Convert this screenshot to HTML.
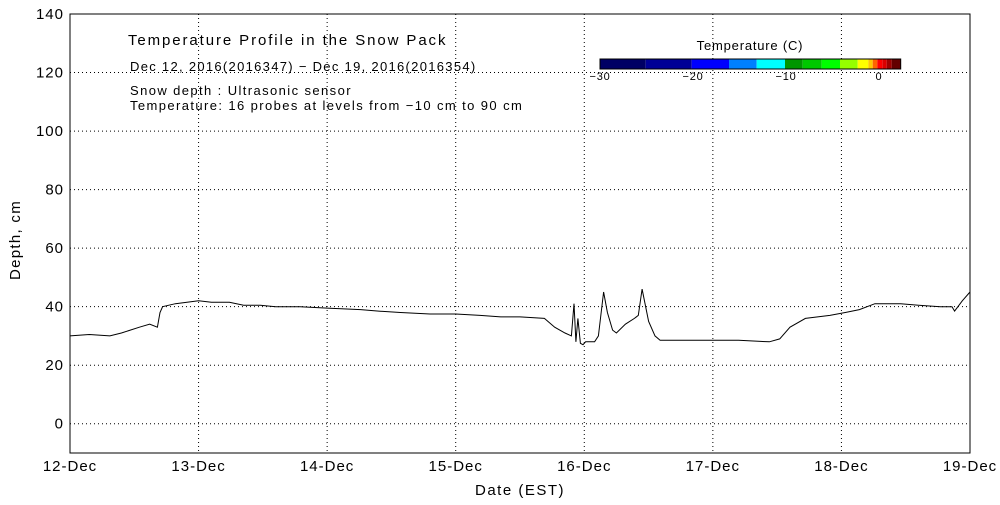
<!DOCTYPE html>
<html><head><meta charset="utf-8"><style>
body{margin:0;background:#fff;}
svg text{font-family:"Liberation Sans",sans-serif;fill:#000;}
</style></head><body>
<svg width="1000" height="500" xmlns="http://www.w3.org/2000/svg">
<g id="grid"></g>
<rect x="70" y="14" width="900" height="439" fill="none" stroke="#000"/>
<g id="axes"></g>
<text x="128" y="45" font-size="15" letter-spacing="1.9">Temperature Profile in the Snow Pack</text>
<text x="130" y="71" font-size="13" letter-spacing="1.3">Dec 12, 2016(2016347) − Dec 19, 2016(2016354)</text>
<text x="130" y="95" font-size="13" letter-spacing="1.4">Snow depth : Ultrasonic sensor</text>
<text x="130" y="110" font-size="13" letter-spacing="1.4">Temperature: 16 probes at levels from −10 cm to 90 cm</text>
<text x="750" y="50" font-size="13" letter-spacing="0.8" text-anchor="middle">Temperature (C)</text>
<g id="cbar"></g>
<text x="20" y="240" font-size="15" letter-spacing="1.3" text-anchor="middle" transform="rotate(-90 20 240)">Depth, cm</text>
<text x="520" y="495" font-size="15" letter-spacing="1.5" text-anchor="middle">Date (EST)</text>
<path id="line" fill="none" stroke="#000" stroke-width="1"/>
</svg>
<script>
const dayLabels=["12-Dec","13-Dec","14-Dec","15-Dec","16-Dec","17-Dec","18-Dec","19-Dec"];
const yTicks=[140,120,100,80,60,40,20,0];
const times=[0,0.15,0.31,0.4,0.54,0.62,0.68,0.70,0.72,0.82,1.0,1.1,1.24,1.35,1.48,1.6,1.79,2.0,2.26,2.4,2.57,2.8,3.0,3.19,3.35,3.5,3.69,3.77,3.85,3.90,3.92,3.935,3.95,3.97,3.99,4.01,4.08,4.11,4.15,4.18,4.22,4.25,4.32,4.39,4.42,4.45,4.50,4.55,4.59,4.8,5.0,5.2,5.44,5.52,5.60,5.72,5.91,6.03,6.14,6.26,6.46,6.6,6.77,6.86,6.88,6.94,7.0];
const depths=[30,30.5,30,31,33,34,33,38,40,41,42,41.5,41.5,40.5,40.5,40,40,39.5,39,38.5,38,37.5,37.5,37,36.5,36.5,36,33,31,30,41,28,36,27.5,27,28,28,30,45,38,32,31,34,36,37,46,35,30,28.5,28.5,28.5,28.5,28,29,33,36,37,38,39,41,41,40.5,40,40,38.5,42,45];
const X0=70,X1=970,Y0=14,Y1=453;
const xs=d=>X0+d*(X1-X0)/7;
const ys=v=>Y1-(v+10)*(Y1-Y0)/150;
const NS="http://www.w3.org/2000/svg";
const grid=document.getElementById('grid'),axes=document.getElementById('axes');
function el(t,a,p){const e=document.createElementNS(NS,t);for(const k in a)e.setAttribute(k,a[k]);p.appendChild(e);return e;}
yTicks.forEach(v=>{
  const y=ys(v);
  const g=el('line',{x1:X0,x2:X1,y1:y,y2:y,stroke:'#000','stroke-dasharray':'1,3'},grid);
  
  
  const t=el('text',{x:X0-6,y:y+5,'font-size':15,'text-anchor':'end','letter-spacing':1},axes);
  t.textContent=v;
  
  
});
dayLabels.forEach((l,i)=>{
  const x=xs(i);
  const g=el('line',{x1:x,x2:x,y1:Y0,y2:Y1,stroke:'#000','stroke-dasharray':'1,3'},grid);
  
  
  const t=el('text',{x:x,y:471,'font-size':15,'text-anchor':'middle','letter-spacing':1},axes);
  t.textContent=l;
  
  
});
const cbColors=["#000064","#000096","#0000ff","#0080ff","#00ffff","#009600","#00c800","#00ff00","#96ff00","#ffff00","#ffc800","#ff6400","#ff0000","#dc0000","#a00000","#640000"];
const cbEdges=[600,645.7,691.7,729,756.7,785,802.7,821.7,840,857.7,868.3,872.7,877.3,882.3,886.7,891.7,900.7];
const cb=document.getElementById('cbar');
cbColors.forEach((c,i)=>{el('rect',{x:cbEdges[i],y:59,width:cbEdges[i+1]-cbEdges[i],height:10,fill:c},cb);});
el('rect',{x:600,y:59,width:300.7,height:10,fill:'none',stroke:'#000'},cb);
const cbTicks=[-30,-20,-10,0];
cbTicks.forEach(v=>{
  const x=600+(v+30)*(879-600)/30;
  const t=el('text',{x:x,y:80,'font-size':11,'text-anchor':'middle','letter-spacing':0.8},cb);
  t.textContent=v===0?'0':'−'+(-v);
});
let d='';
times.forEach((t,i)=>{d+=(i?'L':'M')+xs(t).toFixed(1)+','+ys(depths[i]).toFixed(1);});
document.getElementById('line').setAttribute('d',d);
</script>
</body></html>
